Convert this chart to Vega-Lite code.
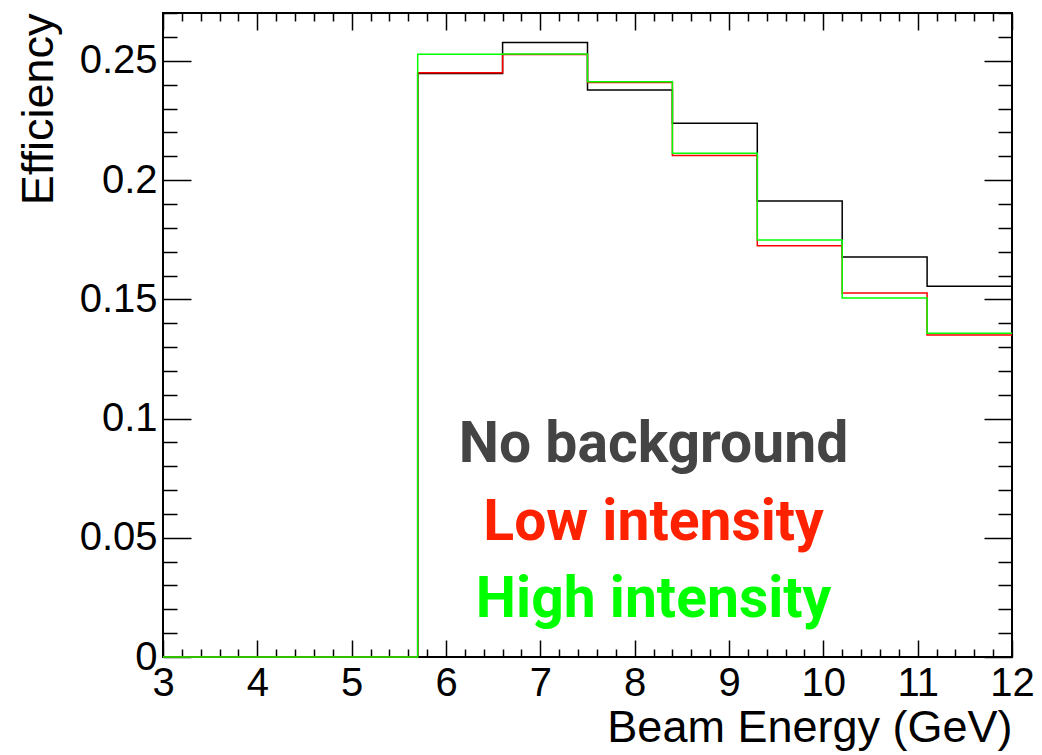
{
  "$schema": "https://vega.github.io/schema/vega-lite/v6.json",
  "width": 849,
  "height": 644,
  "autosize": "none",
  "padding": {"left": 163, "top": 13, "right": 30, "bottom": 98},
  "background": "white",
  "config": {
    "view": {"stroke": "black", "strokeWidth": 2},
    "axis": {"labelFont": "Liberation Sans", "titleFont": "Liberation Sans", "labelColor": "black", "titleColor": "black", "tickColor": "black", "tickWidth": 1.5, "domain": false, "grid": false, "labelOverlap": false, "labelBound": false, "labelFlush": false, "titleFontWeight": "normal"}
  },
  "datasets": {
    "hist": [
      {"series": "No background", "energy": 3.0, "eff": 0},
      {"series": "No background", "energy": 3.9, "eff": 0},
      {"series": "No background", "energy": 4.8, "eff": 0},
      {"series": "No background", "energy": 5.7, "eff": 0.2447},
      {"series": "No background", "energy": 6.6, "eff": 0.2577},
      {"series": "No background", "energy": 7.5, "eff": 0.2378},
      {"series": "No background", "energy": 8.4, "eff": 0.2239},
      {"series": "No background", "energy": 9.3, "eff": 0.1913},
      {"series": "No background", "energy": 10.2, "eff": 0.1678},
      {"series": "No background", "energy": 11.1, "eff": 0.1555},
      {"series": "No background", "energy": 12.0, "eff": 0.1555},
      {"series": "Low intensity", "energy": 3.0, "eff": 0},
      {"series": "Low intensity", "energy": 3.9, "eff": 0},
      {"series": "Low intensity", "energy": 4.8, "eff": 0},
      {"series": "Low intensity", "energy": 5.7, "eff": 0.2450},
      {"series": "Low intensity", "energy": 6.6, "eff": 0.2527},
      {"series": "Low intensity", "energy": 7.5, "eff": 0.2409},
      {"series": "Low intensity", "energy": 8.4, "eff": 0.2103},
      {"series": "Low intensity", "energy": 9.3, "eff": 0.1725},
      {"series": "Low intensity", "energy": 10.2, "eff": 0.1527},
      {"series": "Low intensity", "energy": 11.1, "eff": 0.1351},
      {"series": "Low intensity", "energy": 12.0, "eff": 0.1351},
      {"series": "High intensity", "energy": 3.0, "eff": 0},
      {"series": "High intensity", "energy": 3.9, "eff": 0},
      {"series": "High intensity", "energy": 4.8, "eff": 0},
      {"series": "High intensity", "energy": 5.7, "eff": 0.2528},
      {"series": "High intensity", "energy": 6.6, "eff": 0.2529},
      {"series": "High intensity", "energy": 7.5, "eff": 0.2413},
      {"series": "High intensity", "energy": 8.4, "eff": 0.2113},
      {"series": "High intensity", "energy": 9.3, "eff": 0.1749},
      {"series": "High intensity", "energy": 10.2, "eff": 0.1506},
      {"series": "High intensity", "energy": 11.1, "eff": 0.1358},
      {"series": "High intensity", "energy": 12.0, "eff": 0.1358}
    ],
    "labels": [
      {"label": "No background", "lx": 8.2, "ly": 0.0818},
      {"label": "Low intensity", "lx": 8.2, "ly": 0.0491},
      {"label": "High intensity", "lx": 8.2, "ly": 0.0168}
    ]
  },
  "layer": [
    {
      "data": {"name": "hist"},
      "mark": {"type": "line", "interpolate": "step-after", "strokeWidth": 1.5},
      "encoding": {
        "x": {
          "field": "energy", "type": "quantitative",
          "scale": {"domain": [3, 12], "nice": false, "zero": false},
          "axis": {
            "orient": "bottom",
            "title": "Beam Energy (GeV)",
            "titleFontSize": 45, "titleAnchor": "end", "titleAlign": "right", "titlePadding": -7,
            "labelFontSize": 40, "labelPadding": 23,
            "values": [3,3.2,3.4,3.6,3.8,4,4.2,4.4,4.6,4.8,5,5.2,5.4,5.6,5.8,6,6.2,6.4,6.6,6.8,7,7.2,7.4,7.6,7.8,8,8.2,8.4,8.6,8.8,9,9.2,9.4,9.6,9.8,10,10.2,10.4,10.6,10.8,11,11.2,11.4,11.6,11.8,12],
            "labelExpr": "abs(datum.value - round(datum.value)) < 0.001 ? '' + round(datum.value) : ''",
            "tickSize": {"condition": {"test": "abs(datum.value - round(datum.value)) < 0.001", "value": -17}, "value": -8}
          }
        },
        "y": {
          "field": "eff", "type": "quantitative",
          "scale": {"domain": [0, 0.2701], "nice": false, "zero": false},
          "axis": {
            "orient": "left",
            "title": "Efficiency",
            "titleFontSize": 45, "titleAnchor": "end", "titleAlign": "right", "titlePadding": 18,
            "labelFontSize": 40, "labelPadding": 34,
            "values": [0,0.01,0.02,0.03,0.04,0.05,0.06,0.07,0.08,0.09,0.1,0.11,0.12,0.13,0.14,0.15,0.16,0.17,0.18,0.19,0.2,0.21,0.22,0.23,0.24,0.25,0.26,0.27],
            "labelExpr": "abs(datum.value * 20 - round(datum.value * 20)) < 0.001 ? '' + round(datum.value * 100) / 100 : ''",
            "tickSize": {"condition": {"test": "abs(datum.value * 20 - round(datum.value * 20)) < 0.001", "value": -28}, "value": -14}
          }
        },
        "color": {
          "field": "series", "type": "nominal",
          "scale": {"domain": ["No background", "Low intensity", "High intensity"], "range": ["#000000", "#ff0000", "#00ff00"]},
          "legend": null
        },
        "detail": {"field": "series"}
      }
    },
    {
      "data": {"name": "labels"},
      "mark": {"type": "text", "font": "Roboto", "fontWeight": "bold", "fontSize": 57, "align": "center", "baseline": "alphabetic"},
      "encoding": {
        "x": {
          "field": "lx", "type": "quantitative",
          "scale": {"domain": [3, 12], "nice": false, "zero": false},
          "axis": {
            "orient": "top", "title": null, "labels": false,
            "values": [3,3.2,3.4,3.6,3.8,4,4.2,4.4,4.6,4.8,5,5.2,5.4,5.6,5.8,6,6.2,6.4,6.6,6.8,7,7.2,7.4,7.6,7.8,8,8.2,8.4,8.6,8.8,9,9.2,9.4,9.6,9.8,10,10.2,10.4,10.6,10.8,11,11.2,11.4,11.6,11.8,12],
            "tickSize": {"condition": {"test": "abs(datum.value - round(datum.value)) < 0.001", "value": -17}, "value": -8}
          }
        },
        "y": {
          "field": "ly", "type": "quantitative",
          "scale": {"domain": [0, 0.2701], "nice": false, "zero": false},
          "axis": {
            "orient": "right", "title": null, "labels": false,
            "values": [0,0.01,0.02,0.03,0.04,0.05,0.06,0.07,0.08,0.09,0.1,0.11,0.12,0.13,0.14,0.15,0.16,0.17,0.18,0.19,0.2,0.21,0.22,0.23,0.24,0.25,0.26,0.27],
            "tickSize": {"condition": {"test": "abs(datum.value * 20 - round(datum.value * 20)) < 0.001", "value": -28}, "value": -14}
          }
        },
        "text": {"field": "label"},
        "color": {
          "field": "label", "type": "nominal",
          "scale": {"domain": ["No background", "Low intensity", "High intensity"], "range": ["#444444", "#ff2200", "#00ff00"]},
          "legend": null
        }
      }
    }
  ],
  "resolve": {"scale": {"x": "independent", "y": "independent", "color": "independent"}, "axis": {"x": "independent", "y": "independent"}}
}
